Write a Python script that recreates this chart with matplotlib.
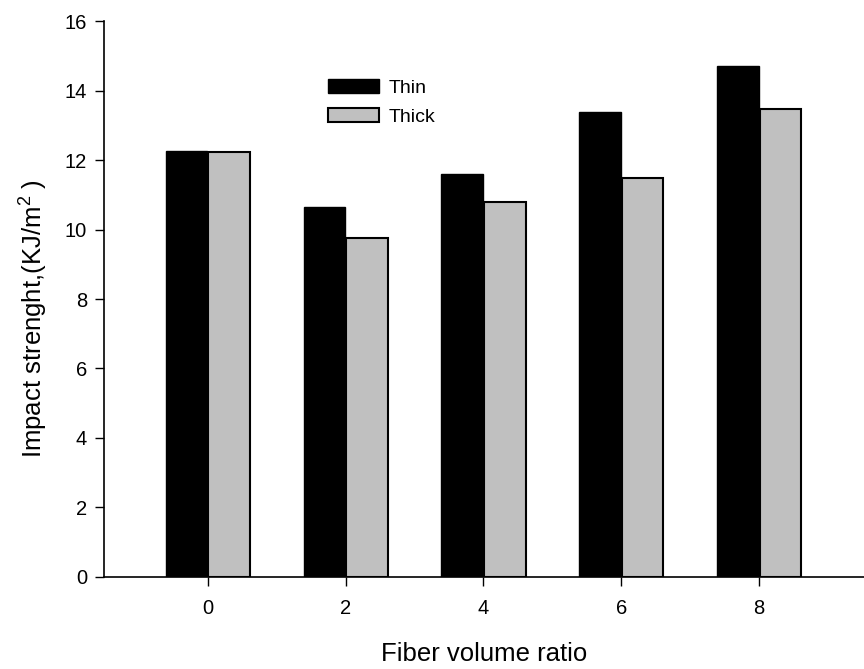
import matplotlib
matplotlib.use("Agg")
import matplotlib.pyplot as plt
import numpy as np

plt.rcParams["font.family"] = ["Liberation Sans", "DejaVu Sans"]
plt.rcParams["mathtext.fontset"] = "custom"
plt.rcParams["mathtext.rm"] = "Liberation Sans"
plt.rcParams["mathtext.it"] = "Liberation Sans"

# data
fiber_ratio = [0, 2, 4, 6, 8]
thin = [12.27, 10.65, 11.60, 13.38, 14.72]
thick = [12.25, 9.75, 10.79, 11.50, 13.48]

fig = plt.figure(figsize=(8.64, 6.69), dpi=100)
ax = fig.add_axes([0.1207, 0.138, 0.8793, 0.830])

x = np.array(fiber_ratio, dtype=float)
bw = 0.6
ax.bar(x - 0.31, thin, width=bw, color="black", edgecolor="black",
       linewidth=1.0, label="Thin")
ax.bar(x + 0.31, thick, width=bw, color="#c0c0c0", edgecolor="black",
       linewidth=1.5, label="Thick")

ax.set_xlim(-1.5, 9.52)
ax.set_ylim(0, 16)
ax.set_xticks(fiber_ratio)
ax.set_yticks(range(0, 17, 2))

for s in ["top", "right"]:
    ax.spines[s].set_visible(False)
for s in ["left", "bottom"]:
    ax.spines[s].set_linewidth(1.2)
ax.tick_params(direction="out", length=6.3, width=1.0, labelsize=14.5)
ax.tick_params(axis="x", pad=10)
ax.tick_params(axis="y", pad=6)

ax.set_xlabel("Fiber volume ratio", fontsize=18.5, labelpad=17)
ax.set_ylabel(r"Impact strenght,(KJ/m$^2$ )", fontsize=18.5, labelpad=11)
ax.yaxis.label.set_y(0.465)

ax.legend(loc="upper left", bbox_to_anchor=(328 / 864, 1 - 79 / 669),
          bbox_transform=fig.transFigure, frameon=False, borderpad=0,
          borderaxespad=0, fontsize=14, handlelength=2.62, handleheight=0.77,
          handletextpad=0.5, labelspacing=0.55)

fig.savefig("out.png", dpi=100)
